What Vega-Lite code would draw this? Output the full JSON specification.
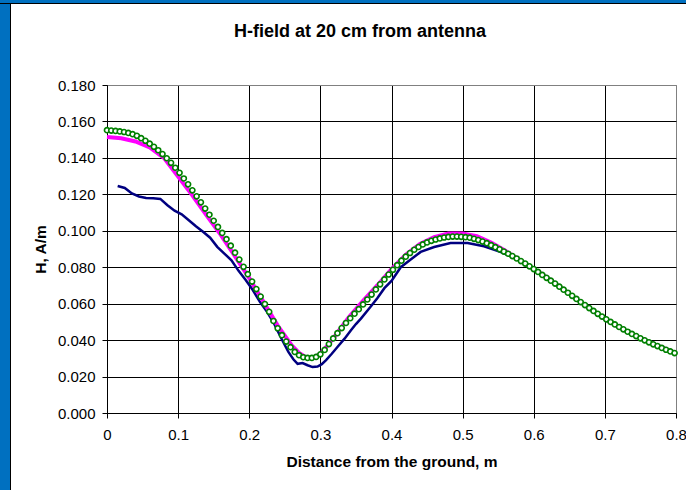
{
"$schema":"https://vega.github.io/schema/vega-lite/v6.json",
"background":"white",
"padding":0,
"spacing":0,
"config":{"font":"Liberation Sans","view":{"stroke":null},"concat":{"spacing":0}},
"datasets":{
"measured":[{"d":0.015,"h":0.1246},{"d":0.025,"h":0.1235},{"d":0.035,"h":0.1205},{"d":0.045,"h":0.1188},{"d":0.055,"h":0.118},{"d":0.065,"h":0.1178},{"d":0.075,"h":0.1175},{"d":0.085,"h":0.114},{"d":0.095,"h":0.111},{"d":0.105,"h":0.109},{"d":0.115,"h":0.1058},{"d":0.125,"h":0.1025},{"d":0.135,"h":0.0995},{"d":0.145,"h":0.0962},{"d":0.155,"h":0.0912},{"d":0.165,"h":0.0875},{"d":0.175,"h":0.0838},{"d":0.185,"h":0.078},{"d":0.195,"h":0.073},{"d":0.205,"h":0.0675},{"d":0.215,"h":0.061},{"d":0.225,"h":0.0555},{"d":0.235,"h":0.049},{"d":0.245,"h":0.041},{"d":0.255,"h":0.0335},{"d":0.262,"h":0.0295},{"d":0.268,"h":0.027},{"d":0.275,"h":0.0274},{"d":0.282,"h":0.0262},{"d":0.289,"h":0.0252},{"d":0.296,"h":0.0255},{"d":0.302,"h":0.0268},{"d":0.308,"h":0.029},{"d":0.316,"h":0.0325},{"d":0.324,"h":0.0362},{"d":0.334,"h":0.0408},{"d":0.343,"h":0.0454},{"d":0.35,"h":0.0488},{"d":0.357,"h":0.0518},{"d":0.37,"h":0.058},{"d":0.38,"h":0.063},{"d":0.39,"h":0.0685},{"d":0.4,"h":0.0725},{"d":0.413,"h":0.08},{"d":0.427,"h":0.0842},{"d":0.441,"h":0.0884},{"d":0.46,"h":0.0911},{"d":0.483,"h":0.0933},{"d":0.507,"h":0.0933},{"d":0.53,"h":0.0915},{"d":0.553,"h":0.0884},{"d":0.577,"h":0.0845},{"d":0.6,"h":0.0795},{"d":0.62,"h":0.074},{"d":0.64,"h":0.0682},{"d":0.66,"h":0.0622},{"d":0.68,"h":0.0566},{"d":0.7,"h":0.0512},{"d":0.72,"h":0.0468},{"d":0.74,"h":0.0428},{"d":0.76,"h":0.0392},{"d":0.78,"h":0.0358},{"d":0.8,"h":0.0325}],
"pink":[{"d":0,"h":0.1515},{"d":0.02,"h":0.1508},{"d":0.04,"h":0.149},{"d":0.06,"h":0.1458},{"d":0.08,"h":0.14},{"d":0.1,"h":0.1297},{"d":0.12,"h":0.1195},{"d":0.14,"h":0.1085},{"d":0.16,"h":0.0978},{"d":0.18,"h":0.086},{"d":0.2,"h":0.074},{"d":0.22,"h":0.061},{"d":0.24,"h":0.048},{"d":0.26,"h":0.037},{"d":0.27,"h":0.033},{"d":0.28,"h":0.0305},{"d":0.29,"h":0.0303},{"d":0.3,"h":0.0325},{"d":0.31,"h":0.037},{"d":0.32,"h":0.042},{"d":0.34,"h":0.0525},{"d":0.36,"h":0.0615},{"d":0.38,"h":0.07},{"d":0.4,"h":0.079},{"d":0.42,"h":0.0868},{"d":0.44,"h":0.0928},{"d":0.46,"h":0.0965},{"d":0.48,"h":0.0985},{"d":0.5,"h":0.0985},{"d":0.52,"h":0.097},{"d":0.54,"h":0.0935},{"d":0.56,"h":0.089},{"d":0.58,"h":0.084},{"d":0.6,"h":0.079},{"d":0.62,"h":0.074},{"d":0.64,"h":0.0683},{"d":0.66,"h":0.0625},{"d":0.68,"h":0.057},{"d":0.7,"h":0.0516},{"d":0.72,"h":0.047},{"d":0.74,"h":0.043},{"d":0.76,"h":0.0393},{"d":0.78,"h":0.036},{"d":0.8,"h":0.033}],
"sim":[{"d":0,"h":0.1552},{"d":0.006,"h":0.155},{"d":0.012,"h":0.1548},{"d":0.018,"h":0.1545},{"d":0.024,"h":0.1542},{"d":0.03,"h":0.1537},{"d":0.036,"h":0.153},{"d":0.042,"h":0.1521},{"d":0.048,"h":0.1508},{"d":0.054,"h":0.1494},{"d":0.06,"h":0.1478},{"d":0.066,"h":0.1461},{"d":0.072,"h":0.1442},{"d":0.078,"h":0.1421},{"d":0.084,"h":0.1398},{"d":0.09,"h":0.1373},{"d":0.096,"h":0.1346},{"d":0.102,"h":0.1318},{"d":0.108,"h":0.1287},{"d":0.114,"h":0.1255},{"d":0.12,"h":0.1222},{"d":0.126,"h":0.1189},{"d":0.132,"h":0.1156},{"d":0.138,"h":0.1122},{"d":0.144,"h":0.1088},{"d":0.15,"h":0.1055},{"d":0.156,"h":0.1021},{"d":0.162,"h":0.0988},{"d":0.168,"h":0.0954},{"d":0.174,"h":0.0918},{"d":0.18,"h":0.088},{"d":0.186,"h":0.0842},{"d":0.192,"h":0.0802},{"d":0.198,"h":0.0762},{"d":0.204,"h":0.0721},{"d":0.21,"h":0.068},{"d":0.216,"h":0.0639},{"d":0.222,"h":0.0598},{"d":0.228,"h":0.0555},{"d":0.234,"h":0.0505},{"d":0.24,"h":0.0465},{"d":0.246,"h":0.0427},{"d":0.252,"h":0.0392},{"d":0.258,"h":0.0361},{"d":0.264,"h":0.0335},{"d":0.27,"h":0.0317},{"d":0.276,"h":0.0306},{"d":0.282,"h":0.0302},{"d":0.288,"h":0.0302},{"d":0.294,"h":0.0308},{"d":0.3,"h":0.0322},{"d":0.306,"h":0.0346},{"d":0.312,"h":0.0378},{"d":0.318,"h":0.0409},{"d":0.324,"h":0.0438},{"d":0.33,"h":0.0466},{"d":0.336,"h":0.0494},{"d":0.342,"h":0.052},{"d":0.348,"h":0.0545},{"d":0.354,"h":0.057},{"d":0.36,"h":0.0596},{"d":0.366,"h":0.0623},{"d":0.372,"h":0.065},{"d":0.378,"h":0.0678},{"d":0.384,"h":0.0706},{"d":0.39,"h":0.0733},{"d":0.396,"h":0.076},{"d":0.402,"h":0.0786},{"d":0.408,"h":0.0811},{"d":0.414,"h":0.0836},{"d":0.42,"h":0.0858},{"d":0.426,"h":0.0878},{"d":0.432,"h":0.0896},{"d":0.438,"h":0.0911},{"d":0.444,"h":0.0925},{"d":0.45,"h":0.0936},{"d":0.456,"h":0.0945},{"d":0.462,"h":0.0952},{"d":0.468,"h":0.0958},{"d":0.474,"h":0.0963},{"d":0.48,"h":0.0966},{"d":0.486,"h":0.0968},{"d":0.492,"h":0.0968},{"d":0.498,"h":0.0967},{"d":0.504,"h":0.0965},{"d":0.51,"h":0.0962},{"d":0.516,"h":0.0956},{"d":0.522,"h":0.0949},{"d":0.528,"h":0.0941},{"d":0.534,"h":0.0932},{"d":0.54,"h":0.0921},{"d":0.546,"h":0.091},{"d":0.552,"h":0.0898},{"d":0.558,"h":0.0886},{"d":0.564,"h":0.0874},{"d":0.57,"h":0.0861},{"d":0.576,"h":0.0848},{"d":0.582,"h":0.0834},{"d":0.588,"h":0.082},{"d":0.594,"h":0.0805},{"d":0.6,"h":0.079},{"d":0.606,"h":0.0774},{"d":0.612,"h":0.0758},{"d":0.618,"h":0.0742},{"d":0.624,"h":0.0726},{"d":0.63,"h":0.071},{"d":0.636,"h":0.0693},{"d":0.642,"h":0.0677},{"d":0.648,"h":0.066},{"d":0.654,"h":0.0643},{"d":0.66,"h":0.0626},{"d":0.666,"h":0.0609},{"d":0.672,"h":0.0592},{"d":0.678,"h":0.0576},{"d":0.684,"h":0.056},{"d":0.69,"h":0.0544},{"d":0.696,"h":0.0529},{"d":0.702,"h":0.0514},{"d":0.708,"h":0.05},{"d":0.714,"h":0.0486},{"d":0.72,"h":0.0472},{"d":0.726,"h":0.0459},{"d":0.732,"h":0.0446},{"d":0.738,"h":0.0434},{"d":0.744,"h":0.0422},{"d":0.75,"h":0.041},{"d":0.756,"h":0.0399},{"d":0.762,"h":0.0388},{"d":0.768,"h":0.0377},{"d":0.774,"h":0.0367},{"d":0.78,"h":0.0357},{"d":0.786,"h":0.0347},{"d":0.792,"h":0.0338},{"d":0.798,"h":0.0329}]
},
"vconcat":[
 {"width":686,"height":3,"view":{"fill":"#0070c0","stroke":null},"data":{"values":[{}]},"mark":{"type":"text","text":"","fontSize":0},"encoding":{}},
 {"width":686,"height":1,"view":{"fill":"#000000","stroke":null},"data":{"values":[{}]},"mark":{"type":"text","text":"","fontSize":0},"encoding":{}},
 {"spacing":21,"hconcat":[
   {"spacing":0,"hconcat":[
     {"width":10,"height":486,"view":{"fill":"#0070c0","stroke":null},"data":{"values":[{}]},"mark":{"type":"text","text":"","fontSize":0},"encoding":{}},
     {"width":1,"height":486,"view":{"fill":"#000000","stroke":null},"data":{"values":[{}]},"mark":{"type":"text","text":"","fontSize":0},"encoding":{}}
   ]},
   {"spacing":17,"vconcat":[
    {"width":1,"height":1,"view":{"fill":"white","stroke":null},"data":{"values":[{}]},"mark":{"type":"text","text":"","fontSize":0},"encoding":{}},
    {"width":569,"height":328,
    "view":{"stroke":"#808080","strokeWidth":1,"fill":"white"},
    "title":{"text":"H-field at 20 cm from antenna","fontSize":18,"fontWeight":"bold","offset":37,"anchor":"middle","frame":"bounds","color":"black"},
    "encoding":{
      "x":{"field":"d","type":"quantitative","scale":{"domain":[0,0.8],"nice":false,"zero":false},"title":"Distance from the ground, m",
        "axis":{"values":[0,0.1,0.2,0.3,0.4,0.5,0.6,0.7,0.8],"format":"~g","labelFontSize":15,"labelColor":"black","labelPadding":9,"labelFlush":false,"labelOverlap":false,"tickSize":5,"tickColor":"black","domainColor":"black","grid":true,"gridColor":{"condition":{"test":"datum.value >= 0.8","value":"#808080"},"value":"black"},"gridOpacity":1,"titleFontSize":15.5,"titleFontWeight":"bold","titlePadding":12,"titleColor":"black"}},
      "y":{"field":"h","type":"quantitative","scale":{"domain":[0,0.18],"nice":false},"title":"H, A/m",
        "axis":{"values":[0,0.02,0.04,0.06,0.08,0.1,0.12,0.14,0.16,0.18],"format":".3f","labelFontSize":15,"labelColor":"black","labelPadding":7,"labelFlush":false,"labelOverlap":false,"tickSize":5,"tickColor":"black","domainColor":"black","grid":true,"gridColor":{"condition":{"test":"datum.value >= 0.18","value":"#808080"},"value":"black"},"gridOpacity":1,"titleFontSize":15.5,"titleFontWeight":"bold","titlePadding":9,"titleColor":"black"}}
    },
    "layer":[
      {"data":{"name":"measured"},"mark":{"type":"line","color":"#000080","strokeWidth":2.5}},
      {"data":{"name":"pink"},"mark":{"type":"line","color":"#ff00ff","strokeWidth":4}},
      {"data":{"name":"sim"},"mark":{"type":"point","shape":"circle","filled":true,"fill":"white","stroke":"#008000","strokeWidth":1.6,"size":26,"opacity":1}}
    ]
   }]}
 ]}
]
}
